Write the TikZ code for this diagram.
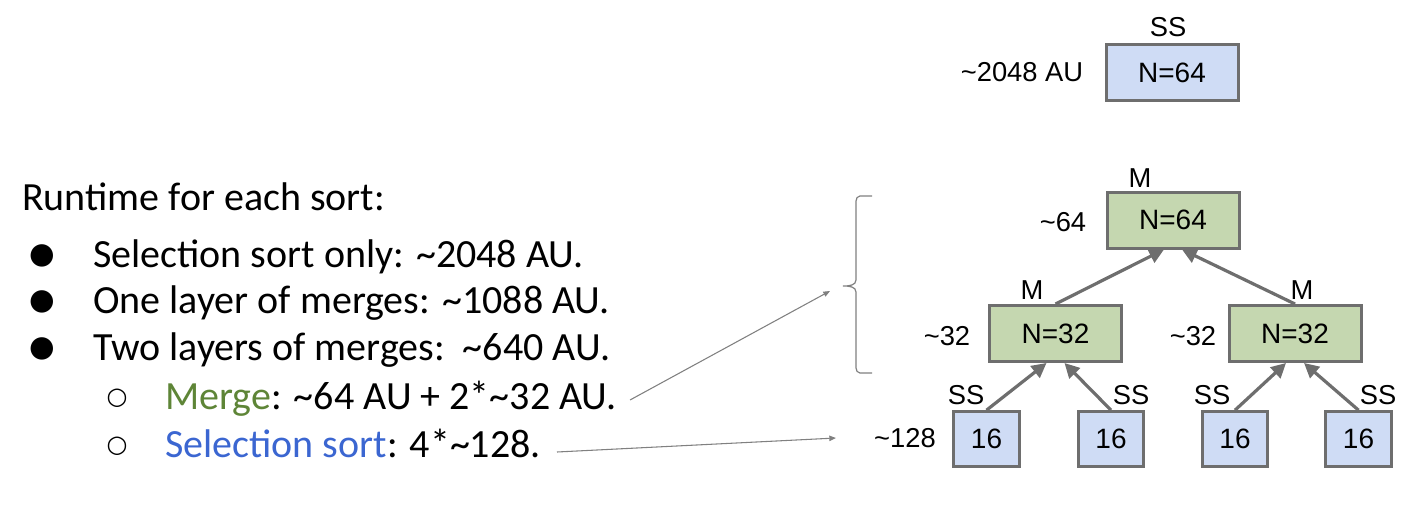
\documentclass[tikz,border=0pt]{standalone}
\usepackage{fontspec}
\setmainfont{Carlito}
\newfontfamily\arialf{Liberation Sans}
\newfontfamily\symf{DejaVu Sans}
\usetikzlibrary{arrows.meta,calc}
\newcommand\tld{\textasciitilde}
\definecolor{bluefill}{HTML}{CFDCF5}
\definecolor{greenfill}{HTML}{C5D7B0}
\definecolor{boxline}{HTML}{6E6E6E}
\definecolor{arrowgray}{HTML}{6E6E6E}
\definecolor{thingray}{HTML}{808080}
\definecolor{mergegreen}{HTML}{5E8537}
\definecolor{ssblue}{HTML}{3B66D1}
\tikzset{
  bigbox/.style={draw=boxline, line width=2.25pt, minimum width=99pt, minimum height=42pt, inner sep=0pt, font=\arialf\fontsize{21pt}{24pt}\selectfont},
  smallbox/.style={draw=boxline, line width=2.25pt, fill=bluefill, minimum width=49pt, minimum height=41pt, inner sep=0pt, font=\arialf\fontsize{21pt}{24pt}\selectfont},
  lbl/.style={inner sep=0pt, font=\arialf\fontsize{20.5pt}{24pt}\selectfont},
  treearrow/.style={draw=arrowgray, line width=2.4pt, -{Triangle[length=11pt,width=11pt]}},
  pointer/.style={draw=thingray, line width=0.8pt, -{Triangle[length=5pt,width=4pt]}},
  brace/.style={draw=thingray, line width=0.9pt},
  txt/.style={inner sep=0pt, anchor=base west, font=\fontsize{30pt}{36pt}\selectfont},
  bul/.style={inner sep=0pt, anchor=center, font=\symf\fontsize{22pt}{24pt}\selectfont},
  sbul/.style={inner sep=0pt, anchor=center, font=\symf\fontsize{18pt}{24pt}\selectfont}
}
\begin{document}
\begin{tikzpicture}[x=0.75pt,y=-0.75pt]
\useasboundingbox (0,0) rectangle (1402,528);
% top SS box
\node[bigbox, fill=bluefill] (ss64) at (1172,72.5) {N=64};
\node[lbl] (ssl) at (1168,27) {SS};
\node[lbl] (ssv) at (1022,72) {\tld2048 AU};
% merge tree
\node[bigbox, fill=greenfill] (m64) at (1173,220) {N=64};
\node[bigbox, fill=greenfill] (m32a) at (1055.5,333.5) {N=32};
\node[bigbox, fill=greenfill] (m32b) at (1295,333.5) {N=32};
\node[smallbox] (b1) at (986.5,439) {16};
\node[smallbox] (b2) at (1111,439) {16};
\node[smallbox] (b3) at (1235,439) {16};
\node[smallbox] (b4) at (1358.5,439) {16};
% labels
\node[lbl] (lm64) at (1140,178) {M};
\node[lbl] (v64) at (1063,222) {\tld64};
\node[lbl] (lm32a) at (1032,290) {M};
\node[lbl] (v32a) at (947,336) {\tld32};
\node[lbl] (lm32b) at (1302,290) {M};
\node[lbl] (v32b) at (1193,336) {\tld32};
\node[lbl] (lb1) at (966,395) {SS};
\node[lbl] (lb2) at (1131,395) {SS};
\node[lbl] (lb3) at (1212,395) {SS};
\node[lbl] (lb4) at (1378,395) {SS};
\node[lbl] (v128) at (905,438) {\tld128};
% tree arrows
\draw[treearrow] (m32a.north) -- ($(m64.south)+(-9,0)$);
\draw[treearrow] (m32b.north) -- ($(m64.south)+(9,0)$);
\draw[treearrow] (b1.north) -- ($(m32a.south)+(-9,0)$);
\draw[treearrow] (b2.north) -- ($(m32a.south)+(9,0)$);
\draw[treearrow] (b3.north) -- ($(m32b.south)+(-9,0)$);
\draw[treearrow] (b4.north) -- ($(m32b.south)+(9,0)$);
% brace
\draw[brace] (872,196) -- (860,196) to[out=180,in=90] (856,201) -- (856,280) to[out=-90,in=0] (843,286) to[out=0,in=90] (856,292) -- (856,368) to[out=-90,in=180] (860,373) -- (872,373);
% left text
\node[txt] (title) at (22,210) {Runtime for each sort:};
\node[bul] (d1) at (42,256) {●};
\node[txt] (t1) at (93,267) {Selection sort only: \tld2048 AU.};
\node[bul] (d2) at (42,302) {●};
\node[txt] (t2) at (93,313) {One layer of merges: \tld1088 AU.};
\node[bul] (d3) at (42,349) {●};
\node[txt] (t3) at (93,360) {Two layers of merges:\ \ \tld640 AU.};
\node[sbul] (d4) at (117,398) {○};
\node[txt] (t4) at (165,409) {\textcolor{mergegreen}{Merge}: \tld64 AU + 2*\tld32 AU.};
\node[sbul] (d5) at (117,446) {○};
\node[txt] (t5) at (165,457) {\textcolor{ssblue}{Selection sort}: 4*\tld128.};
% pointers
\coordinate (p1s) at (630,400);
\coordinate (p1e) at (830,291);
\coordinate (p2s) at (557,452);
\coordinate (p2e) at (836,438);
\draw[pointer] (p1s) -- (p1e);
\draw[pointer] (p2s) -- (p2e);
\end{tikzpicture}
\end{document}
